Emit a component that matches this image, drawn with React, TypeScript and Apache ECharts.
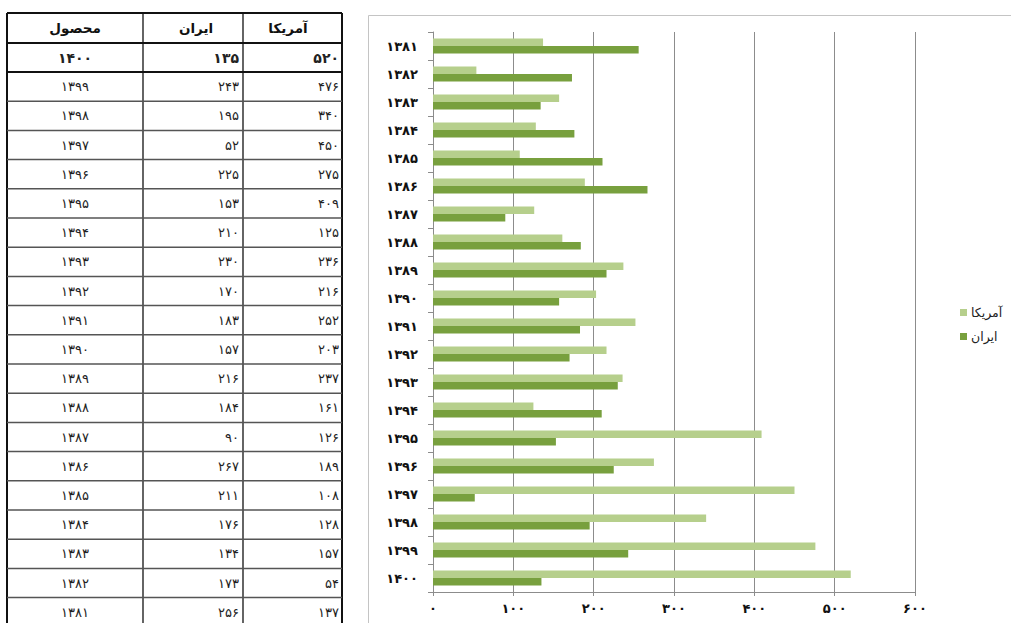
import React, { useEffect, useRef } from "react";
import * as echarts from "echarts";

// ---- data ----
const years = ["۱۳۸۱", "۱۳۸۲", "۱۳۸۳", "۱۳۸۴", "۱۳۸۵", "۱۳۸۶", "۱۳۸۷", "۱۳۸۸", "۱۳۸۹", "۱۳۹۰", "۱۳۹۱", "۱۳۹۲", "۱۳۹۳", "۱۳۹۴", "۱۳۹۵", "۱۳۹۶", "۱۳۹۷", "۱۳۹۸", "۱۳۹۹", "۱۴۰۰"];
const america = [137, 54, 157, 128, 108, 189, 126, 161, 237, 203, 252, 216, 236, 125, 409, 275, 450, 340, 476, 520];
const iran = [256, 173, 134, 176, 211, 267, 90, 184, 216, 157, 183, 170, 230, 210, 153, 225, 52, 195, 243, 135];
const seriesNames = ["آمریکا", "ایران"];
const tableHeaders = ["محصول", "ایران", "آمریکا"];
const xTickLabels = ["۰", "۱۰۰", "۲۰۰", "۳۰۰", "۴۰۰", "۵۰۰", "۶۰۰"];

const FONT = '"DejaVu Sans", sans-serif';
const LIGHT = "#b6cf8c";
const DARK = "#78a03e";

const toFa = (n: number) => String(n).replace(/[0-9]/g, (d) => "۰۱۲۳۴۵۶۷۸۹"[Number(d)]);

function buildTable(): any[] {
  const els: any[] = [];
  const colX = [7, 143, 243, 342];
  const top = 13;
  const headerBottom = 43;
  const firstBottom = 72;
  const rowH = 29.2;
  const bottom = 640;
  // outer chart frame
  els.push({
    type: "rect",
    z: 0,
    shape: { x: 368.5, y: 15.5, width: 700, height: 700 },
    style: { fill: "none", stroke: "#c4c4c4", lineWidth: 1 },
  });
  // vertical lines
  colX.forEach((x, i) => {
    els.push({
      type: "line",
      shape: { x1: x, y1: top, x2: x, y2: bottom },
      style: { stroke: "#111", lineWidth: i === 0 || i === 3 ? 2 : 1.3 },
    });
  });
  // header + top lines
  [top, headerBottom, firstBottom].forEach((y) => {
    els.push({
      type: "line",
      shape: { x1: colX[0], y1: y, x2: colX[3], y2: y },
      style: { stroke: "#111", lineWidth: 2 },
    });
  });
  // header texts
  const headerCenters = [75, 196, 288];
  tableHeaders.forEach((t, i) => {
    els.push({
      type: "text",
      x: headerCenters[i],
      y: (top + headerBottom) / 2,
      style: { text: t, align: "center", verticalAlign: "middle", fontSize: 13.5, fontWeight: "bold", fontFamily: FONT, fill: "#111" },
    });
  });
  // rows in reverse chronological order
  const n = years.length;
  for (let k = 0; k < n; k++) {
    const idx = n - 1 - k;
    let yTop: number, yBot: number;
    if (k === 0) {
      yTop = headerBottom;
      yBot = firstBottom;
    } else {
      yTop = firstBottom + (k - 1) * rowH;
      yBot = yTop + rowH;
      if (k < n - 1) {
        els.push({
          type: "line",
          shape: { x1: colX[0], y1: yBot, x2: colX[3], y2: yBot },
          style: { stroke: "#555", lineWidth: 1.5 },
        });
      }
    }
    const cy = (yTop + yBot) / 2;
    const bold = k === 0;
    const base = { verticalAlign: "middle", fontSize: bold ? 14 : 13, fontWeight: bold ? "bold" : "normal", fontFamily: FONT, fill: "#222" };
    els.push({ type: "text", x: 75, y: cy, style: { ...base, text: years[idx], align: "center" } });
    els.push({ type: "text", x: 239, y: cy, style: { ...base, text: toFa(iran[idx]), align: "right" } });
    els.push({ type: "text", x: 339, y: cy, style: { ...base, text: toFa(america[idx]), align: "right" } });
  }
  return els;
}

export default function App() {
  const ref = useRef<HTMLDivElement>(null);
  useEffect(() => {
    document.body.style.margin = "0";
    const chart = echarts.init(ref.current!, null, { renderer: "svg" });
    chart.setOption({
      animation: false,
      backgroundColor: "#fff",
      textStyle: { fontFamily: FONT },
      grid: { left: 433, right: 96, top: 32, bottom: 31, containLabel: false },
      legend: {
        orient: "vertical",
        left: 955,
        top: 301,
        itemWidth: 7,
        itemHeight: 7,
        itemGap: 11,
        icon: "rect",
        data: seriesNames,
        textStyle: { fontSize: 12.5, color: "#222", fontFamily: FONT, padding: [0, 0, 0, -1] },
      },
      xAxis: {
        type: "value",
        min: 0,
        max: 600,
        interval: 100,
        axisLine: { show: true, lineStyle: { color: "#8c8c8c" } },
        axisTick: { show: true, length: 4, lineStyle: { color: "#8c8c8c" } },
        splitLine: { show: true, lineStyle: { color: "#8c8c8c", width: 1 } },
        axisLabel: {
          margin: 10,
          fontSize: 13,
          fontWeight: "bold",
          color: "#111",
          fontFamily: FONT,
          formatter: (v: number) => xTickLabels[Math.round(v / 100)],
        },
      },
      yAxis: {
        type: "category",
        data: years,
        inverse: true,
        axisLine: { show: true, lineStyle: { color: "#8c8c8c" } },
        axisTick: { show: true, length: 5, lineStyle: { color: "#8c8c8c" } },
        axisLabel: { margin: 15, fontSize: 13, fontWeight: "bold", color: "#111", fontFamily: FONT },
      },
      series: [
        { name: seriesNames[0], type: "bar", data: america, barWidth: 7.5, barGap: "0%", itemStyle: { color: LIGHT } },
        { name: seriesNames[1], type: "bar", data: iran, barWidth: 7.5, barGap: "0%", itemStyle: { color: DARK } },
      ],
      graphic: buildTable(),
    });
    return () => chart.dispose();
  }, []);
  return <div ref={ref} style={{ width: 1011, height: 623 }} />;
}
